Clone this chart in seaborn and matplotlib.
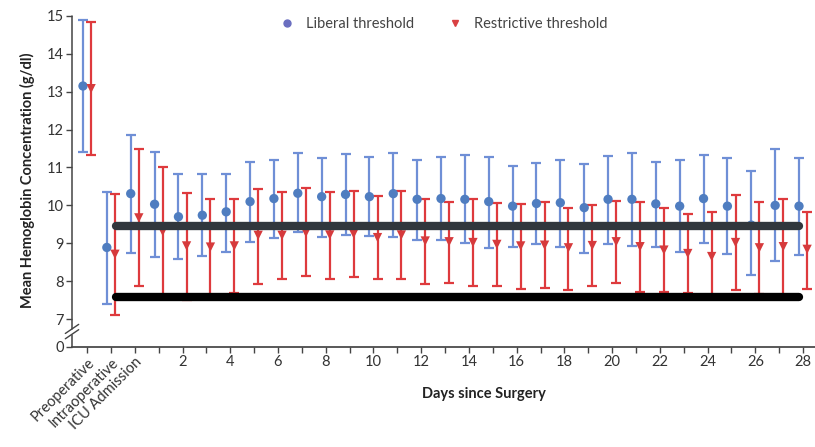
import matplotlib
matplotlib.use("Agg")
import matplotlib.pyplot as plt
import matplotlib.transforms as mtransforms
import seaborn as sns
import pandas as pd
import numpy as np

# ---------------- data ----------------
period_labels = ["Preoperative", "Intraoperative", "ICU Admission"]
period_pos = [-2, -1, 0]
days = list(range(1, 29))
positions = period_pos + days

liberal_mean = [13.15, 8.89, 10.31, 10.03, 9.70, 9.74, 9.83, 10.10, 10.18, 10.32, 10.23,
                10.29, 10.23, 10.31, 10.16, 10.18, 10.16, 10.10, 9.98, 10.05, 10.07, 9.94,
                10.16, 10.16, 10.04, 9.98, 10.18, 9.98, 9.48, 10.00, 9.98]
liberal_upper = [14.89, 10.36, 11.85, 11.41, 10.84, 10.82, 10.84, 11.14, 11.21, 11.37, 11.26,
                 11.35, 11.27, 11.37, 11.19, 11.27, 11.32, 11.28, 11.04, 11.11, 11.19, 11.10,
                 11.30, 11.37, 11.15, 11.20, 11.33, 11.24, 10.90, 11.48, 11.24]
liberal_lower = [11.40, 7.41, 8.75, 8.64, 8.59, 8.66, 8.78, 9.03, 9.15, 9.30, 9.17,
                 9.23, 9.19, 9.17, 9.08, 9.08, 9.00, 8.88, 8.91, 8.97, 8.91, 8.75,
                 8.99, 8.93, 8.90, 8.77, 9.00, 8.71, 8.16, 8.53, 8.68]

restrictive_mean = [13.08, 8.71, 9.67, 9.31, 8.93, 8.90, 8.93, 9.21, 9.21, 9.28, 9.22,
                    9.25, 9.15, 9.22, 9.06, 9.04, 9.02, 8.97, 8.93, 8.95, 8.88, 8.94,
                    9.04, 8.91, 8.82, 8.73, 8.65, 9.02, 8.88, 8.91, 8.84]
restrictive_upper = [14.85, 10.29, 11.48, 11.01, 10.33, 10.18, 10.16, 10.42, 10.36, 10.45, 10.35,
                     10.38, 10.25, 10.38, 10.18, 10.10, 10.16, 10.07, 10.03, 10.10, 9.94, 10.00,
                     10.11, 10.10, 9.92, 9.76, 9.83, 10.27, 10.09, 10.18, 9.83]
restrictive_lower = [11.32, 7.12, 7.87, 7.61, 7.50, 7.62, 7.70, 7.93, 8.05, 8.13, 8.07,
                     8.11, 8.05, 8.07, 7.93, 7.96, 7.87, 7.87, 7.80, 7.83, 7.78, 7.87,
                     7.94, 7.72, 7.72, 7.70, 7.52, 7.77, 7.67, 7.64, 7.80]

threshold_lines = [9.45, 7.59]
threshold_colors = ["#31373d", "#000000"]

y_ticks = [7, 8, 9, 10, 11, 12, 13, 14, 15]
y_zero_pos = 6.263  # where the broken axis "0" sits

groups = ["Liberal threshold", "Restrictive threshold"]
point_colors = {"Liberal threshold": "#4f7dc0", "Restrictive threshold": "#d63a3c"}
bar_colors = {"Liberal threshold": "#6f8fd6", "Restrictive threshold": "#de3a3d"}
offsets = {"Liberal threshold": -0.17, "Restrictive threshold": 0.17}

rows = []
for g, m, up, lo in [("Liberal threshold", liberal_mean, liberal_upper, liberal_lower),
                     ("Restrictive threshold", restrictive_mean, restrictive_upper, restrictive_lower)]:
    for p, mv, u, l in zip(positions, m, up, lo):
        rows.append({"Group": g, "x": p + offsets[g], "mean": mv, "upper": u, "lower": l})
df = pd.DataFrame(rows)

# ---------------- plot ----------------
sns.set_theme(style="ticks")
plt.rcParams["font.family"] = ["Lato", "DejaVu Sans"]

fig = plt.figure(figsize=(8.15, 4.47), dpi=100)
ax = fig.add_axes([72 / 815, 1 - 347 / 447, 743 / 815, 333 / 447])

for g in groups:
    d = df[df["Group"] == g]
    ax.errorbar(d["x"], d["mean"],
                yerr=[d["mean"] - d["lower"], d["upper"] - d["mean"]],
                fmt="none", ecolor=bar_colors[g], elinewidth=1.6, capsize=3.5,
                capthick=1.6, zorder=2)

sns.scatterplot(data=df, x="x", y="mean", hue="Group", style="Group",
                palette=point_colors, markers={"Liberal threshold": "o", "Restrictive threshold": "v"},
                s=45, edgecolor="none", ax=ax, zorder=3, legend=False)

ax.hlines(threshold_lines, -0.8, 27.85, colors=threshold_colors, linewidth=6,
          zorder=5, capstyle="round")

ax.set_xlim(-2.63, 28.5)
ax.set_ylim(y_zero_pos, 15.05)

ax.set_xticks(positions)
xlabels = period_labels + [str(d) if d % 2 == 0 else "" for d in days]
ax.set_xticklabels(xlabels)
for lbl in ax.get_xticklabels()[:3]:
    lbl.set_rotation(45)
    lbl.set_ha("right")
    lbl.set_va("top")
    lbl.set_rotation_mode("anchor")
    lbl.set_fontsize(11)
ax.set_yticks([y_zero_pos] + y_ticks)
ax.set_yticklabels(["0"] + [str(t) for t in y_ticks])
ax.tick_params(axis="both", direction="out", length=4, width=1, color="#444444",
               labelsize=10.5, labelcolor="#333333", pad=2)

for s in ["top", "right"]:
    ax.spines[s].set_visible(False)
ax.spines["bottom"].set_color("#444444")
ax.spines["left"].set_visible(False)

# broken left spine
trans = mtransforms.blended_transform_factory(ax.transAxes, ax.transData)
ax.plot([0, 0], [y_zero_pos, 6.58], transform=trans, color="#444444", lw=1.1, clip_on=False)
ax.plot([0, 0], [6.74, 15.0], transform=trans, color="#444444", lw=1.1, clip_on=False)
for yb in [6.56, 6.70]:
    ax.plot([-0.009, 0.009], [yb - 0.08, yb + 0.16], transform=trans, color="#444444",
            lw=1.0, clip_on=False)

ax.set_xlabel("Days since Surgery", fontweight="bold", fontsize=10.5, color="#222222")
ax.xaxis.set_label_coords(0.555, -0.12)
ax.set_ylabel("Mean Hemoglobin Concentration (g/dl)", fontweight="bold", fontsize=10.5,
              color="#222222", labelpad=8)

handles = [plt.Line2D([], [], marker="o", ls="none", color="#6a6ec0", markersize=5),
           plt.Line2D([], [], marker="v", ls="none", color="#d94042", markersize=5)]
ax.legend(handles, groups, loc="center", bbox_to_anchor=(0.495, 0.97), ncol=2,
          frameon=False, fontsize=10.5, handletextpad=0.3, columnspacing=1.8,
          labelcolor="#444444")

fig.savefig("out.png", dpi=100)
